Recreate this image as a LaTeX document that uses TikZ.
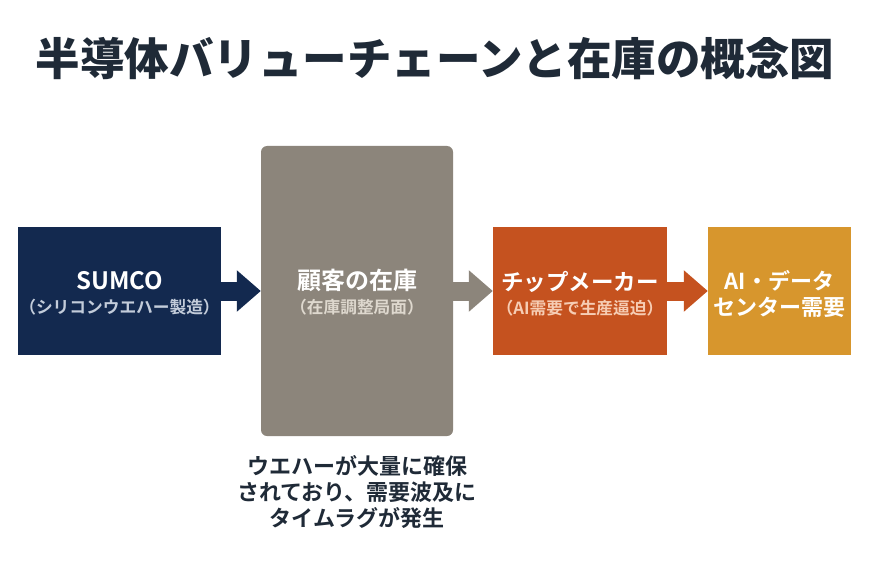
\documentclass[tikz,border=0pt]{standalone}
\usepackage{fontspec}
\setmainfont{Noto Sans CJK JP}[BoldFont={Noto Sans CJK JP Bold}]
\newfontfamily\titlefont{Noto Sans CJK JP Black}
\usetikzlibrary{arrows.meta}
\usetikzlibrary{positioning}

\definecolor{navy}{HTML}{13294F}
\definecolor{stockgray}{HTML}{8C857B}
\definecolor{chipred}{HTML}{C5521F}
\definecolor{aigold}{HTML}{D7962D}
\definecolor{inkdark}{HTML}{1F2A37}
\definecolor{subnavy}{HTML}{C3CCDA}
\definecolor{subgray}{HTML}{DED8CE}
\definecolor{subred}{HTML}{F6CDB4}

\tikzset{
  stage/.style={inner sep=0pt, minimum height=128pt},
  headtxt/.style={text=white, font=\fontsize{24}{28}\selectfont\bfseries},
  subtxt/.style={font=\fontsize{16.7}{20}\selectfont\bfseries},
  flow/.style={line width=19pt, -{Triangle[length=24pt,width=40pt]}},
}

\begin{document}
\begin{tikzpicture}[x=1pt,y=-1pt]
	\useasboundingbox[fill=white] (0,0) rectangle (870,583);

	% title
	\node[text=inkdark, font=\fontsize{44.5}{48}\selectfont\titlefont] (title) at (435,59) {半導体バリューチェーンと在庫の概念図};

	% stages
	\begin{scope}[every node/.style={stage}]
		\node[fill=navy, minimum width=203pt] (sumco) at (119.5,291) {};
		\node[fill=stockgray, minimum width=192pt, minimum height=290pt, rounded corners=6pt] (stock) at (357,291) {};
		\node[fill=chipred, minimum width=174pt] (chip) at (580,291) {};
		\node[fill=aigold, minimum width=143pt] (ai) at (779.5,291) {};
	\end{scope}

	% labels in the stages
	\node[headtxt] (sumcoT) at (119.5,281) {SUMCO};
	\node[subtxt, text=subnavy] (sumcoS) at (119.5,307) {（シリコンウエハー製造）};
	\node[headtxt] (stockT) at (357,280) {顧客の在庫};
	\node[subtxt, text=subgray] (stockS) at (357,307) {（在庫調整局面）};
	\node[headtxt, font=\fontsize{22.5}{26}\selectfont\bfseries] (chipT) at (580,282) {チップメーカー};
	\node[subtxt, text=subred] (chipS) at (580,308) {（AI需要で生産逼迫）};
	\node[headtxt, font=\fontsize{22}{26}\selectfont\bfseries, align=center] (aiT) at (779.5,294) {AI・データ\\センター需要};

	% note under the stock
	\node[text=inkdark, font=\fontsize{22}{26}\selectfont\bfseries, align=center] (note) at (357,492) {ウエハーが大量に確保\\されており、需要波及に\\タイムラグが発生};

	% flow arrows
	\draw[flow, navy] (sumco.east) -- (sumco.east -| stock.west);
	\draw[flow, stockgray] (stock.east |- chip.west) -- (chip.west);
	\draw[flow, chipred] (chip.east) -- (ai.west);
\end{tikzpicture}
\end{document}
